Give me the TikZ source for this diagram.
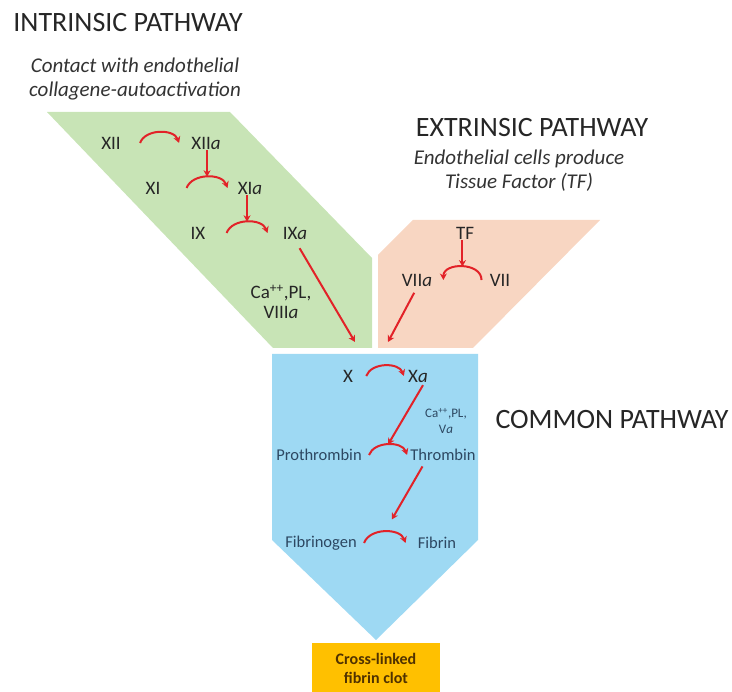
\documentclass[tikz,border=0pt]{standalone}
\usepackage{fontspec}
\setmainfont{Carlito}
\usetikzlibrary{arrows.meta}

\definecolor{intrgreen}{RGB}{200,228,182}
\definecolor{extrpeach}{RGB}{248,214,194}
\definecolor{commblue}{RGB}{158,217,243}
\definecolor{clotorange}{RGB}{255,192,0}
\definecolor{reactred}{RGB}{226,34,40}
\definecolor{bluetext}{RGB}{45,72,98}
\definecolor{clottext}{RGB}{80,50,0}

\begin{document}
\begin{tikzpicture}[
            x = 1pt, y = -1pt, % pixel grid, y downwards
            > = {Stealth[length=6.5pt, width=7pt]}, % arrow head style
            semithick % line style
        ]

        \tikzstyle{title}=[font=\fontsize{28}{30}\selectfont, text=black!85]
        \tikzstyle{subtitle}=[font=\fontsize{21}{24}\selectfont\itshape, align=center, text=black!80]
        \tikzstyle{factor}=[font=\fontsize{19}{21}\selectfont, text=black!85, inner sep=1pt]
        \tikzstyle{prot}=[font=\fontsize{16.5}{18}\selectfont, text=bluetext, inner sep=1pt]
        \tikzstyle{cofactor}=[align=center, text=black!85]
        \tikzstyle{react}=[->, draw=reactred, line width=2pt]

        \useasboundingbox (0,0) rectangle (732,692);

	% pathway areas
        \fill[intrgreen] (47,112) -- (230,112) -- (372,258) -- (372,348) -- (273,348) -- cycle;
        \fill[extrpeach] (413,220) -- (600,220) -- (473,348) -- (378,348) -- (378,255) -- cycle;
        \fill[commblue] (272,354) -- (478,354) -- (478,540) -- (376,640) -- (272,540) -- cycle;
        \fill[clotorange] (312,643) rectangle (440,692);

	% titles
        \node[title] (intr) at (128,22.5) {INTRINSIC PATHWAY};
        \node[subtitle] (intrsub) at (135,79) {Contact with endothelial\\collagene-autoactivation};
        \node[title] (extr) at (532,128) {EXTRINSIC PATHWAY};
        \node[subtitle] (extrsub) at (519,171) {Endothelial cells produce\\Tissue Factor (TF)};
        \node[title] (comm) at (612,420) {COMMON PATHWAY};

	% intrinsic
        \node[factor] (XII) at (111,143) {XII};
        \node[factor] (XIIa) at (206,143) {XII\textit{a}};
        \node[factor] (XI) at (153,188) {XI};
        \node[factor] (XIa) at (250,188) {XI\textit{a}};
        \node[factor] (IX) at (198,233) {IX};
        \node[factor] (IXa) at (295,233) {IX\textit{a}};
        \node[factor, cofactor, font=\fontsize{19}{20}\selectfont] (VIII) at (281,302) {Ca\textsuperscript{++},PL,\\VIII\textit{a}};

        \draw[react] ([xshift=18pt]XII.east) to[bend left=70] ([xshift=-11pt]XIIa.west);
        \draw[react] ([xshift=25pt]XI.east) to[bend left=70] coordinate[pos=.5] (kXI) ([xshift=-9pt]XIa.west);
        \draw[react] ([xshift=20pt]IX.east) to[bend left=70] coordinate[pos=.5] (kIX) ([xshift=-14pt]IXa.west);
        \draw[react] (kXI |- XIIa.south) -- (kXI);
        \draw[react] (kIX |- XIa.south) -- (kIX);

	% extrinsic
        \node[factor] (TF) at (465,233) {TF};
        \node[factor] (VII) at (500,280) {VII};
        \node[factor] (VIIa) at (417,280) {VII\textit{a}};

        \draw[react] ([xshift=-7pt]VII.west) to[bend right=90, looseness=1.2] coordinate[pos=.5] (kVII) ([xshift=10pt]VIIa.east);
        \draw[react] (kVII |- TF.south) -- (kVII);

	% into common pathway
        \coordinate (inIX) at (355,342);
        \coordinate (inVII) at (388,342);
        \draw[react, shorten <=9pt] (IXa.south) -- (inIX);
        \draw[react, shorten <=6pt] (VIIa.south) -- (inVII);

	% common
        \node[factor] (X) at (348,376) {X};
        \node[factor] (Xa) at (418,376) {X\textit{a}};
        \node[cofactor, font=\fontsize{13}{16}\selectfont, text=bluetext] (Va) at (446,421) {Ca\textsuperscript{++},PL,\\V\textit{a}};
        \node[prot] (Pro) at (319,455) {Prothrombin};
        \node[prot] (Thr) at (443,455) {Thrombin};
        \node[prot] (Fbg) at (321,543) {Fibrinogen};
        \node[prot] (Fbn) at (437,543) {Fibrin};

        \draw[react] ([xshift=12pt]X.east) to[bend left=70] ([xshift=-3pt]Xa.west);
        \draw[react] ([xshift=6pt]Pro.east) to[bend left=70] coordinate[pos=.5] (kPro) ([xshift=-2pt]Thr.west);
        \draw[react] ([xshift=6pt]Fbg.east) to[bend left=70] coordinate[pos=.5] (kFbg) ([xshift=-11pt]Fbn.west);
        \draw[react, shorten <=2pt] ([xshift=6pt]Xa.south) -- (kPro);
        \draw[react, shorten <=5pt, shorten >=14pt] ([xshift=-18pt]Thr.south) -- (kFbg);

	% clot
        \node[font=\fontsize{16}{19}\selectfont\bfseries, align=center, text=clottext] (clot) at (376,668) {Cross-linked\\fibrin clot};

  \end{tikzpicture}
\end{document}
